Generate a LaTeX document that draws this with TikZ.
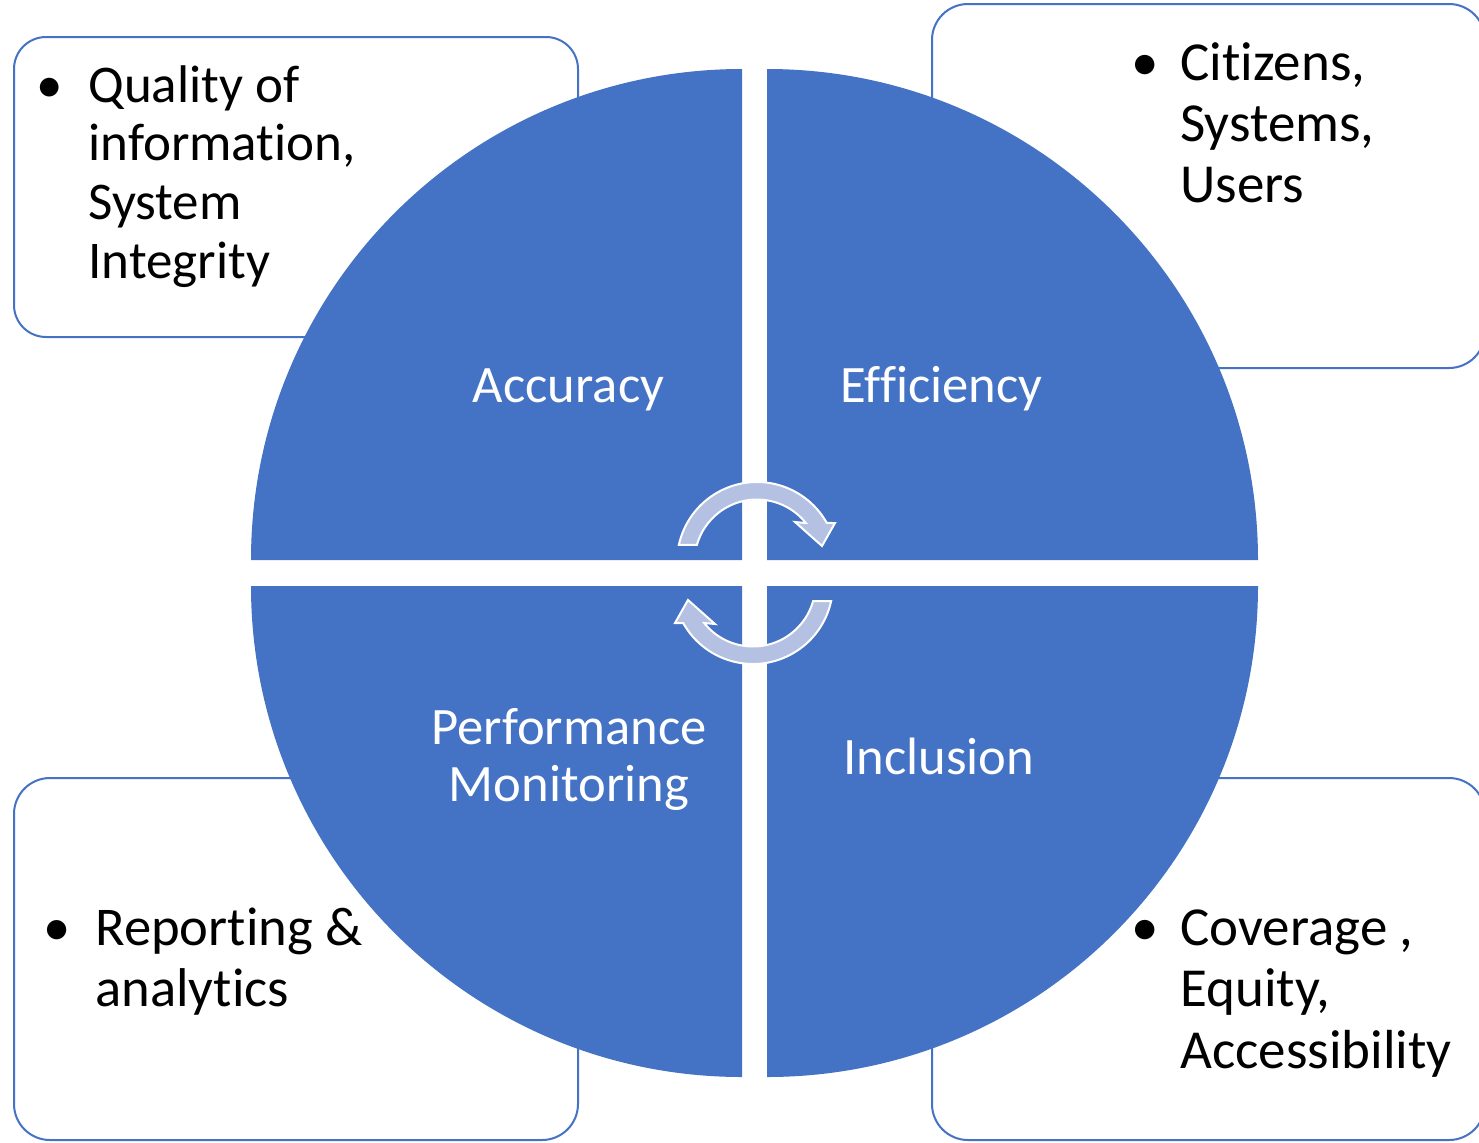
\documentclass[tikz,border=0pt]{standalone}
\usepackage{fontspec}
\setmainfont[Ligatures={NoCommon}]{Carlito}
\definecolor{qblue}{RGB}{68,114,196}
\definecolor{arrowfill}{RGB}{180,193,226}
\newcommand\tlfont{\fontsize{26.5}{29.4}\selectfont}
\newcommand\trfont{\fontsize{27.5}{30.5}\selectfont}
\newcommand\blfont{\fontsize{27.3}{30.8}\selectfont}
\newcommand\brfont{\fontsize{27.5}{30.8}\selectfont}
\newcommand\labfont{\fontsize{26.3}{28.7}\selectfont}
\begin{document}
\begin{tikzpicture}[x=0.5pt,y=-0.5pt,
  box/.style={draw=qblue, line width=1pt, fill=white},
  quad/.style={fill=qblue},
  cyc/.style={fill=arrowfill, draw=white, line width=1pt, line join=miter},
  lab/.style={text=white, inner sep=0pt, anchor=base, font=\labfont},
  itm/.style={text=black, inner sep=0pt, anchor=base west},
  dot/.style={text=black, inner sep=0pt, anchor=base},
  cycarr/.pic={
    \path[cyc] (167.7:80) arc[start angle=167.7, end angle=29.2, radius=80]
      -- (78,39) -- (65,16) -- (38,40) -- (38.6:62.5)
      arc[start angle=38.6, end angle=164.2, radius=62.5] -- cycle;
  }]
\useasboundingbox (0,0) rectangle (1479,1142);
\clip (0,0) rectangle (1479,1142);
% side boxes
\draw[box, rounded corners=16pt] (14,37) rectangle (578,337);
\draw[box, rounded corners=18pt] (932,4) rectangle (1485,368);
\draw[box, rounded corners=18pt] (14,778) rectangle (578,1140);
\draw[box, rounded corners=18pt] (932,778) rectangle (1485,1140);
% quadrants
\fill[quad] (742,560) -- ++(-491,0) arc[start angle=180, end angle=270, radius=491] -- cycle;
\fill[quad] (767,560) -- ++(491,0) arc[start angle=0, end angle=-90, radius=491] -- cycle;
\fill[quad] (742,586) -- ++(-491,0) arc[start angle=180, end angle=90, radius=491] -- cycle;
\fill[quad] (767,586) -- ++(491,0) arc[start angle=0, end angle=90, radius=491] -- cycle;
% cycle arrows
\pic[yscale=-1] at (757,562) {cycarr};
\pic[xscale=-1] at (753,584) {cycarr};
% quadrant labels
\node[lab] (acc) at (568.5,402.7) {Accuracy};
\node[lab] (eff) at (941.5,402.7) {Efficiency};
\node[lab] (perf) at (569,744.3) {\begin{tabular}[t]{@{}c@{}}Performance\\Monitoring\end{tabular}};
\node[lab] (incl) at (939,774) {Inclusion};
% box texts
\node[dot, font=\tlfont] (tlb) at (50,102) {•};
\node[itm, font=\tlfont] (tlt) at (88,102) {\begin{tabular}[t]{@{}l@{}}Quality of\\information,\\System\\Integrity\end{tabular}};
\node[dot, font=\trfont] (trb) at (1145,80) {•};
\node[itm, font=\trfont] (trt) at (1180,80) {\begin{tabular}[t]{@{}l@{}}Citizens,\\Systems,\\Users\end{tabular}};
\node[dot, font=\blfont] (blb) at (57,945) {•};
\node[itm, font=\blfont] (blt) at (95,945) {\begin{tabular}[t]{@{}l@{}}Reporting \&\\analytics\end{tabular}};
\node[dot, font=\brfont] (brb) at (1145,945) {•};
\node[itm, font=\brfont] (brt) at (1180,945) {\begin{tabular}[t]{@{}l@{}}Coverage ,\\Equity,\\Accessibility\end{tabular}};
\end{tikzpicture}
\end{document}
